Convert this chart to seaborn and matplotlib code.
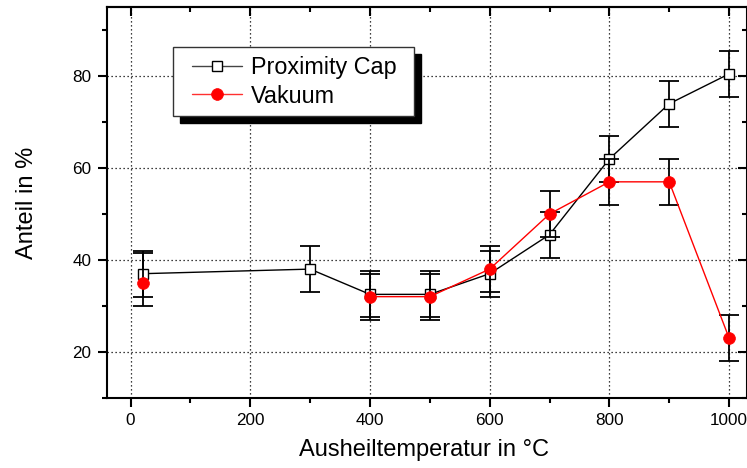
import numpy as np
import pandas as pd
import matplotlib
matplotlib.use("Agg")
import matplotlib.pyplot as plt
from matplotlib.lines import Line2D
from matplotlib.legend_handler import HandlerLine2D
from matplotlib.ticker import MultipleLocator
import seaborn as sns

# ---- data ----
temps = [20, 300, 400, 500, 600, 700, 800, 900, 1000]
prox = [37, 38, 32.5, 32.5, 37, 45.5, 62, 74, 80.5]
prox_err = [5, 5, 5, 5, 5, 5, 5, 5, 5]
vak = [35, np.nan, 32, 32, 38, 50, 57, 57, 23]
vak_err_low = [5, np.nan, 5, 5, 5, 5, 5, 5, 5]
vak_err_high = [6.4, np.nan, 5, 5, 5, 5, 5, 5, 5]
vak_segment = [0, 0, 1, 1, 1, 1, 1, 1, 1]
series_names = ["Proximity Cap", "Vakuum"]
x_label = "Ausheiltemperatur in °C"
y_label = "Anteil in %"

sns.set_style("ticks")
plt.rcParams["font.family"] = ["Liberation Sans", "DejaVu Sans"]
plt.rcParams["text.color"] = "black"
plt.rcParams["axes.labelcolor"] = "black"
plt.rcParams["xtick.color"] = "black"
plt.rcParams["ytick.color"] = "black"

fig = plt.figure(figsize=(7.47, 4.68), dpi=100)
ax = fig.add_axes([0.1428, 0.1502, 0.8572, 0.8342])

df_p = pd.DataFrame({"T": temps, "v": prox, "seg": 0})
df_v = pd.DataFrame({"T": temps, "v": vak, "seg": vak_segment}).dropna()

ax.errorbar(temps, prox, yerr=prox_err, fmt="none", ecolor="black",
            elinewidth=1.3, capsize=7, capthick=1.3, zorder=2)
sns.lineplot(data=df_p, x="T", y="v", units="seg", estimator=None, sort=False,
             ax=ax, color="black", lw=1.0, marker="s", markersize=7.5,
             markerfacecolor="white", markeredgecolor="black",
             markeredgewidth=1.0, legend=False, zorder=3)
ax.errorbar(temps, vak, yerr=[vak_err_low, vak_err_high], fmt="none",
            ecolor="black", elinewidth=1.3, capsize=7, capthick=1.3, zorder=4)
sns.lineplot(data=df_v, x="T", y="v", units="seg", estimator=None, sort=False,
             ax=ax, color="red", lw=1.0, marker="o", markersize=8.5,
             markerfacecolor="red", markeredgecolor="red",
             markeredgewidth=0.5, legend=False, zorder=5)

ax.set_xlim(-40, 1030)
ax.set_ylim(10, 95)
ax.xaxis.set_major_locator(MultipleLocator(200))
ax.xaxis.set_minor_locator(MultipleLocator(100))
ax.yaxis.set_major_locator(MultipleLocator(20))
ax.yaxis.set_minor_locator(MultipleLocator(10))

ax.grid(True, which="major", color="black", linestyle=(0, (1, 2.2)), linewidth=0.9)
ax.set_axisbelow(True)

for s in ax.spines.values():
    s.set_linewidth(1.5)
    s.set_color("black")
    s.set_visible(True)

ax.tick_params(which="major", direction="out", length=6.5, width=1.5,
               labelsize=12.3, pad=4.5, colors="black")
ax.tick_params(which="minor", direction="out", length=3.3, width=1.5)

secx = ax.secondary_xaxis("top")
secx.xaxis.set_major_locator(MultipleLocator(200))
secx.xaxis.set_minor_locator(MultipleLocator(100))
secx.tick_params(which="major", direction="in", length=6.5, width=1.5, labeltop=False)
secx.tick_params(which="minor", direction="in", length=3.3, width=1.5)
secx.spines["top"].set_linewidth(1.5)
secy = ax.secondary_yaxis("right")
secy.yaxis.set_major_locator(MultipleLocator(20))
secy.yaxis.set_minor_locator(MultipleLocator(10))
secy.tick_params(which="major", direction="in", length=6.5, width=1.5, labelright=False)
secy.tick_params(which="minor", direction="in", length=3.3, width=1.5)

ax.set_xlabel(x_label, fontsize=17)
ax.set_ylabel(y_label, fontsize=17)
ax.xaxis.set_label_coords(0.495, -0.1045)
ax.yaxis.set_label_coords(-0.1072, 0.5)

handles = [
    Line2D([], [], color="#444444", lw=1.0, marker="s", markersize=7.5,
           markerfacecolor="white", markeredgecolor="black", markeredgewidth=1.0),
    Line2D([], [], color="#ff3030", lw=1.0, marker="o", markersize=8.5,
           markerfacecolor="red", markeredgecolor="red", markeredgewidth=0.5),
]
hmap = {h: HandlerLine2D(xpad=0.43) for h in handles}
leg = ax.legend(handles, series_names, loc="upper left",
                bbox_to_anchor=(0.104, 0.7975, 0.376, 0.1), mode="expand",
                borderaxespad=0,
                fontsize=16.8, frameon=True, fancybox=False,
                handlelength=2.57, handletextpad=0.39, labelspacing=0.23,
                borderpad=0.38, handler_map=hmap,
                shadow={"color": "black", "alpha": 1, "ox": 4.7, "oy": -4.7})
leg.get_frame().set_edgecolor("#333333")
leg.get_frame().set_linewidth(1.0)
leg.get_frame().set_facecolor("white")
leg.get_frame().set_alpha(1)

fig.savefig("out.png", dpi=100)
